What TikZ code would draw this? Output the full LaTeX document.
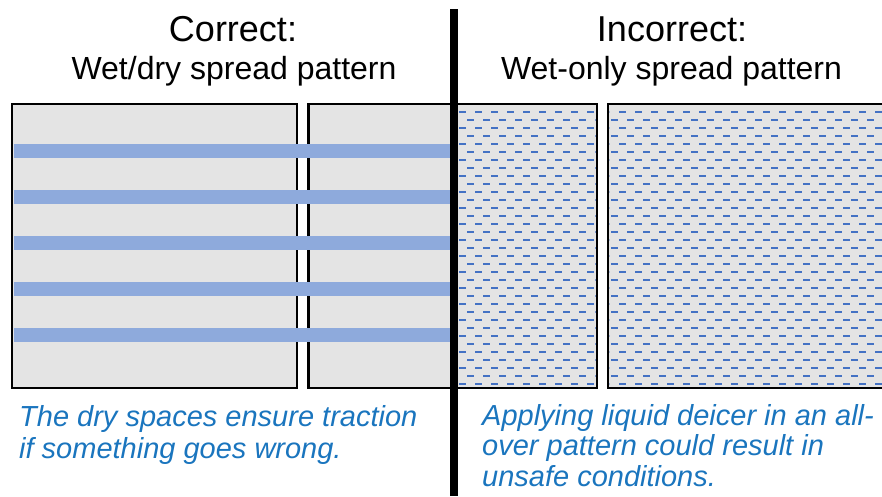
\documentclass[tikz,border=0pt]{standalone}
\usepackage{fontspec}
\setmainfont{Liberation Sans}
\definecolor{boxfill}{HTML}{E4E4E4}
\definecolor{stripec}{HTML}{8EAADC}
\definecolor{dashc}{HTML}{4472C4}
\definecolor{captc}{HTML}{1A75BE}
\begin{document}
\begin{tikzpicture}[x=1pt,y=-1pt,
  titletext/.style={anchor=base,inner sep=0pt,font=\fontsize{36}{40}\selectfont},
  subtext/.style={anchor=base,inner sep=0pt,font=\fontsize{32}{36}\selectfont},
  capttext/.style={anchor=base west,inner sep=0pt,text=captc,font=\fontsize{29}{32}\selectfont\itshape},
  boxline/.style={draw=black,line width=2.5pt},
  stripeline/.style={draw=stripec,line width=14pt},
  dashline/.style={draw=dashc,line width=2pt,dash pattern=on 7pt off 9pt}]
\useasboundingbox (0,0) rectangle (882,496);
% box fills
\fill[boxfill] (12,104) rectangle (297,388);
\fill[boxfill] (308.5,104) rectangle (597,388);
\fill[boxfill] (608,104) rectangle (895,388);
% dashes
\begin{scope}
  \clip (455,105.5) rectangle (595.5,386.5) (609.5,105.5) rectangle (882,386.5);
  \foreach \k in {0,...,34}{
    \pgfmathsetmacro{\yy}{111.7+8*\k}
    \pgfmathsetmacro{\xs}{mod(\k,2)==0 ? 443.3 : 451.3}
    \draw[dashline] (\xs,\yy) -- (900,\yy);
  }
\end{scope}
% borders
\draw[boxline] (12,104) rectangle (297,388);
\draw[boxline] (308.5,104) rectangle (597,388);
\draw[boxline] (608,104) rectangle (895,388);
% stripes
\foreach \yy in {151,197,243,289,335}{
  \draw[stripeline] (14,\yy) -- (453,\yy);
}
% divider
\draw[line width=7.5pt] (454,9) -- (454,496);
% texts
\node[titletext] (t1) at (233,41.5) {Correct:};
\node[subtext] (s1) at (234,79.5) {Wet/dry spread pattern};
\node[titletext] (t2) at (672,41.5) {Incorrect:};
\node[subtext] (s2) at (671.5,79.5) {Wet-only spread pattern};
\node[capttext] (c1) at (19,426.5) {The dry spaces ensure traction};
\node[capttext] (c2) at (19,458) {if something goes wrong.};
\node[capttext] (c3) at (482,425) {Applying liquid deicer in an all-};
\node[capttext] (c4) at (482,455.5) {over pattern could result in};
\node[capttext] (c5) at (482,486) {unsafe conditions.};
\end{tikzpicture}
\end{document}
